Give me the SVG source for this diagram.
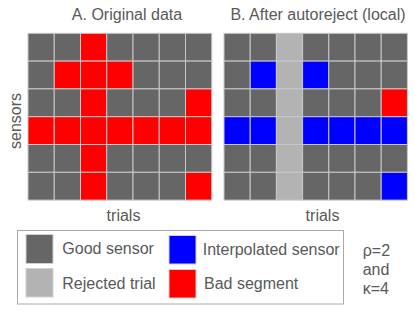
<svg xmlns="http://www.w3.org/2000/svg" width="415" height="312" viewBox="0 0 415 312">
<style>
text{font-family:"Liberation Sans",Arial,sans-serif;fill:#595959;font-size:16px}
.g{fill:#666666}.r{fill:#ff0000}.b{fill:#0000ff}.l{fill:#b3b3b3}
.grid rect{stroke:#c8c8c8;stroke-width:1}
.sw{stroke:#d0d0d0;stroke-width:1}
</style>
<rect width="415" height="312" fill="#ffffff"/>
<g id="panelA">
<text x="127" y="20" text-anchor="middle">A. Original data</text>
<text transform="translate(21,121) rotate(-90)" text-anchor="middle">sensors</text>
<text x="123.5" y="221" text-anchor="middle">trials</text>
<g class="grid" transform="translate(28,33.3)">
<rect class="g" x="0" y="0" width="26.25" height="27.8"/><rect class="g" x="26.25" y="0" width="26.25" height="27.8"/><rect class="r" x="52.5" y="0" width="26.25" height="27.8"/><rect class="g" x="78.75" y="0" width="26.25" height="27.8"/><rect class="g" x="105" y="0" width="26.25" height="27.8"/><rect class="g" x="131.25" y="0" width="26.25" height="27.8"/><rect class="g" x="157.5" y="0" width="26.25" height="27.8"/>
<rect class="g" x="0" y="27.8" width="26.25" height="27.8"/><rect class="r" x="26.25" y="27.8" width="26.25" height="27.8"/><rect class="r" x="52.5" y="27.8" width="26.25" height="27.8"/><rect class="r" x="78.75" y="27.8" width="26.25" height="27.8"/><rect class="g" x="105" y="27.8" width="26.25" height="27.8"/><rect class="g" x="131.25" y="27.8" width="26.25" height="27.8"/><rect class="g" x="157.5" y="27.8" width="26.25" height="27.8"/>
<rect class="g" x="0" y="55.6" width="26.25" height="27.8"/><rect class="g" x="26.25" y="55.6" width="26.25" height="27.8"/><rect class="r" x="52.5" y="55.6" width="26.25" height="27.8"/><rect class="g" x="78.75" y="55.6" width="26.25" height="27.8"/><rect class="g" x="105" y="55.6" width="26.25" height="27.8"/><rect class="g" x="131.25" y="55.6" width="26.25" height="27.8"/><rect class="r" x="157.5" y="55.6" width="26.25" height="27.8"/>
<rect class="r" x="0" y="83.4" width="26.25" height="27.8"/><rect class="r" x="26.25" y="83.4" width="26.25" height="27.8"/><rect class="r" x="52.5" y="83.4" width="26.25" height="27.8"/><rect class="r" x="78.75" y="83.4" width="26.25" height="27.8"/><rect class="r" x="105" y="83.4" width="26.25" height="27.8"/><rect class="r" x="131.25" y="83.4" width="26.25" height="27.8"/><rect class="r" x="157.5" y="83.4" width="26.25" height="27.8"/>
<rect class="g" x="0" y="111.2" width="26.25" height="27.8"/><rect class="g" x="26.25" y="111.2" width="26.25" height="27.8"/><rect class="r" x="52.5" y="111.2" width="26.25" height="27.8"/><rect class="g" x="78.75" y="111.2" width="26.25" height="27.8"/><rect class="g" x="105" y="111.2" width="26.25" height="27.8"/><rect class="g" x="131.25" y="111.2" width="26.25" height="27.8"/><rect class="g" x="157.5" y="111.2" width="26.25" height="27.8"/>
<rect class="g" x="0" y="139" width="26.25" height="27.8"/><rect class="g" x="26.25" y="139" width="26.25" height="27.8"/><rect class="r" x="52.5" y="139" width="26.25" height="27.8"/><rect class="g" x="78.75" y="139" width="26.25" height="27.8"/><rect class="g" x="105" y="139" width="26.25" height="27.8"/><rect class="g" x="131.25" y="139" width="26.25" height="27.8"/><rect class="r" x="157.5" y="139" width="26.25" height="27.8"/>
</g>
</g>
<g id="panelB">
<text x="318" y="20" text-anchor="middle">B. After autoreject (local)</text>
<text x="322.5" y="221" text-anchor="middle">trials</text>
<g class="grid" transform="translate(224,33.3)">
<rect class="g" x="0" y="0" width="26.2" height="27.8"/><rect class="g" x="26.2" y="0" width="26.2" height="27.8"/><rect class="l" x="52.4" y="0" width="26.2" height="27.8"/><rect class="g" x="78.6" y="0" width="26.2" height="27.8"/><rect class="g" x="104.8" y="0" width="26.2" height="27.8"/><rect class="g" x="131" y="0" width="26.2" height="27.8"/><rect class="g" x="157.2" y="0" width="26.2" height="27.8"/>
<rect class="g" x="0" y="27.8" width="26.2" height="27.8"/><rect class="b" x="26.2" y="27.8" width="26.2" height="27.8"/><rect class="l" x="52.4" y="27.8" width="26.2" height="27.8"/><rect class="b" x="78.6" y="27.8" width="26.2" height="27.8"/><rect class="g" x="104.8" y="27.8" width="26.2" height="27.8"/><rect class="g" x="131" y="27.8" width="26.2" height="27.8"/><rect class="g" x="157.2" y="27.8" width="26.2" height="27.8"/>
<rect class="g" x="0" y="55.6" width="26.2" height="27.8"/><rect class="g" x="26.2" y="55.6" width="26.2" height="27.8"/><rect class="l" x="52.4" y="55.6" width="26.2" height="27.8"/><rect class="g" x="78.6" y="55.6" width="26.2" height="27.8"/><rect class="g" x="104.8" y="55.6" width="26.2" height="27.8"/><rect class="g" x="131" y="55.6" width="26.2" height="27.8"/><rect class="r" x="157.2" y="55.6" width="26.2" height="27.8"/>
<rect class="b" x="0" y="83.4" width="26.2" height="27.8"/><rect class="b" x="26.2" y="83.4" width="26.2" height="27.8"/><rect class="l" x="52.4" y="83.4" width="26.2" height="27.8"/><rect class="b" x="78.6" y="83.4" width="26.2" height="27.8"/><rect class="b" x="104.8" y="83.4" width="26.2" height="27.8"/><rect class="b" x="131" y="83.4" width="26.2" height="27.8"/><rect class="b" x="157.2" y="83.4" width="26.2" height="27.8"/>
<rect class="g" x="0" y="111.2" width="26.2" height="27.8"/><rect class="g" x="26.2" y="111.2" width="26.2" height="27.8"/><rect class="l" x="52.4" y="111.2" width="26.2" height="27.8"/><rect class="g" x="78.6" y="111.2" width="26.2" height="27.8"/><rect class="g" x="104.8" y="111.2" width="26.2" height="27.8"/><rect class="g" x="131" y="111.2" width="26.2" height="27.8"/><rect class="g" x="157.2" y="111.2" width="26.2" height="27.8"/>
<rect class="g" x="0" y="139" width="26.2" height="27.8"/><rect class="g" x="26.2" y="139" width="26.2" height="27.8"/><rect class="l" x="52.4" y="139" width="26.2" height="27.8"/><rect class="g" x="78.6" y="139" width="26.2" height="27.8"/><rect class="g" x="104.8" y="139" width="26.2" height="27.8"/><rect class="g" x="131" y="139" width="26.2" height="27.8"/><rect class="b" x="157.2" y="139" width="26.2" height="27.8"/>
</g>
</g>
<g id="legend">
<rect x="17.5" y="230.5" width="326" height="73.5" fill="#ffffff" stroke="#aaaaaa" stroke-width="1"/>
<rect class="g sw" x="26" y="234.5" width="27" height="29"/>
<rect class="l sw" x="26" y="268.5" width="27" height="28.5"/>
<rect class="b sw" x="169" y="235.5" width="27" height="28.5"/>
<rect class="r sw" x="169" y="269.5" width="27" height="28.5"/>
<text x="62.3" y="253.5">Good sensor</text>
<text x="62.3" y="288.5">Rejected trial</text>
<text x="202.7" y="255">Interpolated sensor</text>
<text x="204" y="289">Bad segment</text>
</g>
<g id="params">
<text x="362.7" y="256" font-size="15">ρ=2</text>
<text x="362.7" y="275" font-size="15">and</text>
<text x="362.7" y="294" font-size="15">κ=4</text>
</g>
</svg>
